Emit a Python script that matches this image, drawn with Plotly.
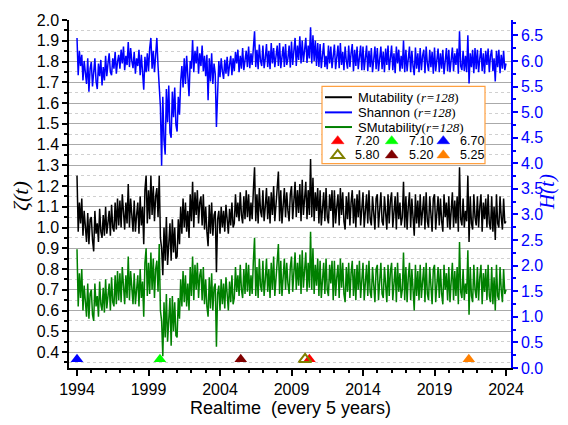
import plotly.graph_objects as go

# ---------------- data ----------------
t_start = 1994.0          # first sample (year)
t_step = 1.0 / 12.0       # sample spacing (years)

# Shannon entropy H(t)  (right axis), 12 samples per year
shannon = [
    6.45, 5.72, 6.20, 5.90, 6.12, 5.62, 6.00, 5.78, 5.55, 6.05, 5.40, 5.85,   # 1994
    5.98, 5.50, 5.82, 6.05, 5.60, 5.45, 5.95, 5.70, 6.02, 5.52, 5.88, 5.62,   # 1995
    6.10, 5.70, 5.95, 6.15, 5.78, 5.72, 6.05, 5.85, 6.18, 5.75, 5.98, 6.12,   # 1996
    5.85, 6.22, 5.95, 6.28, 5.82, 6.10, 5.92, 6.37, 5.88, 6.25, 6.00, 5.86,   # 1997
    6.18, 5.75, 6.05, 5.90, 6.22, 5.72, 6.12, 5.80, 5.44, 6.08, 5.78, 6.15,   # 1998
    5.80, 6.25, 6.45, 5.85, 6.20, 5.78, 6.10, 6.45, 5.90, 5.55, 5.10, 3.95,   # 1999
    5.30, 4.45, 4.17, 5.45, 4.80, 5.52, 4.60, 4.50, 5.40, 4.90, 5.48, 4.75,   # 2000
    4.62, 5.30, 4.95, 5.60, 5.90, 5.48, 6.05, 5.55, 6.10, 5.70, 5.31, 6.00,   # 2001
    5.85, 6.41, 5.78, 6.20, 5.95, 6.28, 5.75, 6.15, 5.90, 6.30, 5.80, 6.10,   # 2002
    5.70, 6.12, 5.23, 6.05, 5.60, 6.15, 5.55, 5.95, 5.75, 4.71, 5.65, 6.00,   # 2003
    5.68, 6.05, 5.80, 5.65, 6.02, 5.75, 6.08, 5.70, 5.92, 6.10, 5.72, 6.05,   # 2004
    5.80, 6.18, 5.95, 6.22, 5.78, 6.10, 5.85, 6.25, 5.82, 6.05, 6.20, 5.88,   # 2005
    6.28, 5.86, 6.15, 5.92, 6.30, 6.58, 5.88, 6.22, 5.84, 6.32, 6.00, 5.90,   # 2006
    6.30, 5.86, 6.05, 6.33, 5.88, 6.20, 5.84, 6.35, 5.95, 6.25, 5.88, 6.10,   # 2007
    6.30, 5.90, 6.35, 5.86, 6.15, 6.28, 5.88, 6.33, 5.92, 6.05, 6.30, 5.87,   # 2008
    6.38, 5.92, 6.20, 6.45, 5.90, 6.30, 6.02, 6.48, 5.95, 6.40, 5.98, 6.25,   # 2009
    6.45, 5.96, 6.30, 6.05, 6.66, 5.95, 6.50, 6.00, 6.40, 5.90, 6.35, 5.88,   # 2010
    6.33, 5.86, 6.20, 6.35, 5.88, 6.10, 5.84, 6.30, 5.95, 6.28, 5.86, 6.15,   # 2011
    6.32, 5.84, 6.05, 6.30, 5.86, 6.35, 5.92, 6.18, 5.82, 6.28, 6.00, 5.85,   # 2012
    6.30, 5.88, 6.15, 6.33, 5.80, 6.22, 5.90, 6.28, 5.84, 6.10, 6.30, 5.82,   # 2013
    6.28, 5.82, 6.08, 6.30, 5.80, 6.20, 5.88, 6.25, 5.78, 6.12, 6.28, 5.84,   # 2014
    6.25, 5.80, 6.05, 6.28, 5.84, 6.18, 5.78, 6.24, 5.92, 6.30, 5.82, 6.10,   # 2015
    6.30, 5.82, 6.15, 5.76, 6.28, 5.95, 6.22, 5.80, 6.10, 5.85, 6.40, 5.78,   # 2016
    6.22, 5.80, 6.05, 6.28, 5.78, 6.20, 5.90, 5.72, 6.26, 5.85, 6.15, 5.78,   # 2017
    6.25, 5.82, 6.10, 6.22, 5.76, 6.28, 5.95, 5.80, 6.22, 5.88, 6.18, 5.75,   # 2018
    6.26, 5.80, 6.02, 6.24, 5.78, 6.15, 5.85, 6.22, 5.74, 6.10, 6.25, 5.80,   # 2019
    6.22, 5.78, 6.08, 6.26, 5.80, 6.15, 5.92, 6.24, 5.75, 6.58, 5.90, 5.82,   # 2020
    6.20, 5.80, 6.10, 5.78, 6.50, 5.56, 6.15, 5.88, 6.22, 5.76, 6.25, 5.84,   # 2021
    6.22, 5.78, 6.05, 6.25, 5.80, 6.15, 5.75, 6.20, 5.92, 6.24, 5.78, 6.10,   # 2022
    6.22, 5.80, 6.05, 5.60, 6.20, 5.88, 6.22, 5.76, 6.12, 5.85, 6.20, 5.82,   # 2023
    5.95,                                                                     # 2024
]

# Mutability zeta(t)  (left axis)
mutability = [
    1.25, 0.98, 1.12, 1.02, 1.14, 0.96, 1.08, 1.00, 0.93, 1.07, 0.92, 1.04,   # 1994
    1.05, 0.94, 0.885, 1.08, 0.97, 1.02, 0.93, 1.09, 0.98, 0.95, 1.06, 0.96,  # 1995
    1.10, 0.97, 1.04, 1.08, 0.96, 1.11, 1.00, 0.98, 1.12, 0.99, 1.14, 1.01,   # 1996
    1.13, 1.00, 1.16, 1.04, 0.99, 1.12, 1.02, 1.21, 1.00, 1.14, 1.06, 0.98,   # 1997
    1.13, 0.98, 1.06, 1.12, 0.97, 1.15, 1.01, 1.10, 0.92, 1.18, 1.25, 1.02,   # 1998
    1.18, 1.04, 1.25, 1.06, 1.20, 1.03, 1.15, 1.19, 1.05, 1.25, 0.95, 0.90,   # 1999
    0.77, 1.00, 0.84, 1.05, 0.82, 0.95, 1.02, 0.84, 1.04, 0.88, 1.00, 0.85,   # 2000
    0.86, 1.04, 0.92, 1.10, 0.97, 1.14, 1.00, 1.12, 0.98, 1.08, 0.95, 1.16,   # 2001
    1.03, 1.22, 1.00, 1.17, 1.06, 1.18, 1.02, 1.12, 1.15, 1.01, 1.16, 0.99,   # 2002
    1.10, 0.98, 0.91, 1.11, 0.97, 1.12, 0.96, 1.06, 1.08, 0.785, 1.04, 1.08,  # 2003
    0.97, 1.10, 1.00, 1.08, 0.98, 1.11, 1.02, 0.97, 1.09, 1.01, 1.12, 1.00,   # 2004
    1.02, 1.16, 1.05, 1.12, 1.03, 1.17, 1.06, 1.02, 1.15, 1.04, 1.18, 1.05,   # 2005
    1.16, 1.03, 1.12, 1.04, 1.18, 1.29, 1.03, 1.16, 1.02, 1.19, 1.08, 1.05,   # 2006
    1.18, 1.03, 1.10, 1.19, 1.04, 1.15, 1.02, 1.17, 1.06, 1.20, 1.03, 1.12,   # 2007
    1.17, 1.27, 1.03, 1.18, 1.02, 1.14, 1.19, 1.05, 1.17, 1.08, 1.03, 1.16,   # 2008
    1.20, 1.04, 1.15, 1.22, 1.05, 1.18, 1.07, 1.21, 1.03, 1.23, 1.06, 1.16,   # 2009
    1.22, 1.04, 1.18, 1.06, 1.33, 1.05, 1.24, 1.03, 1.17, 1.08, 1.19, 1.02,   # 2010
    1.18, 1.01, 1.12, 1.17, 1.03, 1.19, 1.05, 1.02, 1.16, 1.08, 1.18, 1.00,   # 2011
    1.18, 1.02, 1.10, 1.16, 1.01, 1.19, 1.06, 1.17, 1.03, 0.99, 1.15, 1.04,   # 2012
    1.17, 1.01, 1.12, 1.18, 1.02, 1.14, 1.00, 1.16, 1.05, 1.18, 1.01, 1.10,   # 2013
    1.17, 1.00, 1.10, 1.16, 1.02, 1.18, 1.04, 1.01, 1.15, 1.07, 0.99, 1.14,   # 2014
    1.16, 1.00, 1.12, 1.17, 1.03, 1.01, 1.15, 1.06, 0.99, 1.16, 1.02, 1.13,   # 2015
    1.17, 1.00, 1.08, 1.15, 0.99, 1.17, 1.04, 1.12, 1.01, 1.05, 1.22, 1.00,   # 2016
    1.15, 0.99, 1.10, 1.17, 1.00, 1.14, 1.05, 0.96, 1.16, 1.02, 1.13, 1.00,   # 2017
    1.16, 1.01, 1.08, 1.15, 0.99, 1.17, 1.03, 1.00, 1.15, 1.06, 0.98, 1.14,   # 2018
    1.16, 0.99, 1.10, 1.15, 1.01, 1.14, 1.03, 0.98, 1.16, 1.05, 1.12, 1.00,   # 2019
    1.15, 0.99, 1.08, 1.17, 1.00, 1.13, 1.02, 1.15, 0.98, 1.29, 1.04, 1.01,   # 2020
    1.14, 1.00, 1.08, 1.03, 1.25, 0.93, 1.15, 1.02, 0.99, 1.16, 1.05, 1.01,   # 2021
    1.15, 1.00, 1.10, 1.16, 0.98, 1.12, 1.04, 1.14, 1.00, 1.16, 1.02, 0.99,   # 2022
    1.15, 0.98, 1.10, 0.94, 1.16, 1.02, 1.00, 1.15, 1.05, 0.99, 1.14, 1.02,   # 2023
    1.03,                                                                     # 2024
]

# SMutability (left axis)
smutability = [
    0.895, 0.62, 0.78, 0.66, 0.80, 0.60, 0.72, 0.64, 0.57, 0.73, 0.56, 0.68,  # 1994
    0.70, 0.58, 0.55, 0.73, 0.62, 0.67, 0.57, 0.74, 0.63, 0.60, 0.71, 0.59,   # 1995
    0.75, 0.61, 0.68, 0.73, 0.60, 0.76, 0.64, 0.62, 0.77, 0.63, 0.79, 0.65,   # 1996
    0.78, 0.64, 0.81, 0.68, 0.63, 0.77, 0.66, 0.86, 0.65, 0.79, 0.70, 0.63,   # 1997
    0.78, 0.63, 0.70, 0.77, 0.62, 0.80, 0.66, 0.74, 0.57, 0.83, 0.90, 0.67,   # 1998
    0.83, 0.68, 0.88, 0.70, 0.85, 0.66, 0.80, 0.84, 0.69, 0.92, 0.60, 0.55,   # 1999
    0.38, 0.64, 0.47, 0.68, 0.45, 0.58, 0.66, 0.43, 0.67, 0.50, 0.64, 0.48,   # 2000
    0.47, 0.66, 0.56, 0.75, 0.62, 0.79, 0.64, 0.77, 0.62, 0.73, 0.60, 0.81,   # 2001
    0.67, 0.86, 0.65, 0.82, 0.70, 0.83, 0.66, 0.77, 0.80, 0.65, 0.81, 0.63,   # 2002
    0.75, 0.62, 0.57, 0.76, 0.61, 0.78, 0.60, 0.71, 0.73, 0.425, 0.68, 0.72,  # 2003
    0.60, 0.75, 0.63, 0.73, 0.61, 0.76, 0.65, 0.60, 0.74, 0.64, 0.77, 0.63,   # 2004
    0.66, 0.81, 0.69, 0.77, 0.67, 0.82, 0.70, 0.66, 0.80, 0.68, 0.83, 0.69,   # 2005
    0.82, 0.67, 0.77, 0.68, 0.84, 0.95, 0.67, 0.81, 0.66, 0.85, 0.72, 0.69,   # 2006
    0.84, 0.67, 0.75, 0.85, 0.69, 0.80, 0.66, 0.83, 0.70, 0.86, 0.67, 0.77,   # 2007
    0.82, 0.92, 0.68, 0.84, 0.67, 0.79, 0.85, 0.70, 0.83, 0.73, 0.68, 0.81,   # 2008
    0.86, 0.69, 0.80, 0.88, 0.70, 0.83, 0.72, 0.87, 0.68, 0.89, 0.71, 0.81,   # 2009
    0.88, 0.69, 0.83, 0.71, 0.98, 0.70, 0.90, 0.68, 0.82, 0.72, 0.85, 0.67,   # 2010
    0.84, 0.66, 0.78, 0.83, 0.68, 0.85, 0.70, 0.67, 0.82, 0.73, 0.84, 0.65,   # 2011
    0.84, 0.67, 0.76, 0.82, 0.66, 0.85, 0.71, 0.83, 0.68, 0.64, 0.81, 0.69,   # 2012
    0.83, 0.66, 0.78, 0.84, 0.67, 0.80, 0.65, 0.82, 0.70, 0.84, 0.66, 0.76,   # 2013
    0.83, 0.65, 0.76, 0.82, 0.67, 0.84, 0.69, 0.66, 0.81, 0.72, 0.64, 0.80,   # 2014
    0.82, 0.65, 0.77, 0.83, 0.68, 0.66, 0.81, 0.71, 0.64, 0.82, 0.67, 0.79,   # 2015
    0.83, 0.65, 0.74, 0.81, 0.64, 0.83, 0.69, 0.78, 0.66, 0.70, 0.88, 0.65,   # 2016
    0.81, 0.64, 0.76, 0.83, 0.65, 0.80, 0.70, 0.60, 0.82, 0.67, 0.79, 0.65,   # 2017
    0.82, 0.66, 0.74, 0.81, 0.64, 0.83, 0.68, 0.65, 0.81, 0.71, 0.63, 0.80,   # 2018
    0.82, 0.64, 0.76, 0.81, 0.66, 0.80, 0.68, 0.63, 0.82, 0.70, 0.78, 0.65,   # 2019
    0.81, 0.64, 0.74, 0.83, 0.65, 0.79, 0.67, 0.81, 0.63, 0.93, 0.69, 0.66,   # 2020
    0.80, 0.65, 0.73, 0.68, 0.89, 0.58, 0.81, 0.67, 0.64, 0.82, 0.70, 0.66,   # 2021
    0.81, 0.65, 0.76, 0.82, 0.63, 0.78, 0.69, 0.80, 0.65, 0.82, 0.67, 0.64,   # 2022
    0.81, 0.63, 0.76, 0.60, 0.82, 0.67, 0.65, 0.81, 0.70, 0.64, 0.80, 0.68,   # 2023
    0.70,                                                                     # 2024
]

# events (triangles along the bottom)
event_years = [2010.25, 1999.8, 1994.0, 2009.95, 2005.45, 2021.4]
event_labels = ["7.20", "7.10", "6.70", "5.80", "5.20", "5.25"]
event_colors = ["#FF0000", "#00FF00", "#0000FF", "#808000", "#800000", "#FF8000"]
event_open = [False, False, False, True, False, False]
event_level = 0.365

x_ticks = [1994, 1999, 2004, 2009, 2014, 2019, 2024]

# ---------------- figure ----------------
def times(series):
    return [t_start + i * t_step for i in range(len(series))]


W, H = 568, 425
L, R, T, B = 69, 57, 12, 57
PW, PH = W - L - R, H - T - B


def pxx(x):
    return (x - L) / PW


def pxy(y):
    return (H - B - y) / PH


SANS = "Liberation Sans, Arial, sans-serif"
SERIF = "Liberation Serif, Times New Roman, serif"

fig = go.Figure()
fig.add_trace(go.Scatter(x=times(shannon), y=shannon, yaxis="y2", mode="lines",
                         line=dict(color="#0000FF", width=1.5), showlegend=False))
fig.add_trace(go.Scatter(x=times(mutability), y=mutability, mode="lines",
                         line=dict(color="#000000", width=1.5), showlegend=False))
fig.add_trace(go.Scatter(x=times(smutability), y=smutability, mode="lines",
                         line=dict(color="#008000", width=1.5), showlegend=False))

draw_order = [0, 1, 2, 4, 5, 3]
for i in draw_order:
    c = event_colors[i]
    if event_open[i]:
        mk = dict(symbol="triangle-up-open", size=11, color=c, line=dict(color=c, width=2))
    else:
        mk = dict(symbol="triangle-up", size=11, color=c, line=dict(width=0))
    fig.add_trace(go.Scatter(x=[event_years[i]], y=[event_level], mode="markers", marker=mk,
                             showlegend=False))

xr = [1993.44, 2024.35]
TF = 16
fig.update_layout(
    width=W, height=H,
    margin=dict(l=L, r=R, t=T, b=B),
    paper_bgcolor="white", plot_bgcolor="white",
    showlegend=False,
    xaxis=dict(range=xr, tickvals=x_ticks, ticks="outside", ticklen=6, tickwidth=1.5,
               tickcolor="black", showline=True, linecolor="black", linewidth=1.5,
               showgrid=False, zeroline=False,
               tickfont=dict(family=SANS, size=TF, color="black"),
               minor=dict(dtick=1, tick0=1994, ticks="outside", ticklen=3, tickwidth=1.5,
                          tickcolor="black", showgrid=False)),
    xaxis2=dict(range=xr, overlaying="x", side="top", anchor="y", tickvals=x_ticks,
                ticks="inside", ticklen=7, tickwidth=1.5, tickcolor="#0000FF",
                showline=True, linecolor="#0000FF", linewidth=1.5, showgrid=False,
                zeroline=False, showticklabels=False,
                minor=dict(dtick=1, tick0=1994, ticks="inside", ticklen=4, tickwidth=1.5,
                           tickcolor="#0000FF", showgrid=False)),
    yaxis=dict(range=[0.323, 2.0], tick0=0.4, dtick=0.1, tickformat=".1f",
               ticks="outside", ticklen=5, tickwidth=1.5, tickcolor="black",
               showline=True, linecolor="black", linewidth=1.5,
               showgrid=True, gridcolor="#aaaaaa", gridwidth=1, zeroline=False,
               tickfont=dict(family=SANS, size=TF, color="black"),
               minor=dict(dtick=0.05, tick0=0.35, ticks="outside", ticklen=3, tickwidth=1.5,
                          tickcolor="black", showgrid=True, griddash="dot",
                          gridcolor="#d0d0d0", gridwidth=1)),
    yaxis2=dict(range=[0, 6.8], overlaying="y", side="right", anchor="x",
                tick0=0, dtick=0.5, tickformat=".1f",
                ticks="outside", ticklen=5, tickwidth=1.5, tickcolor="#0000FF",
                showline=True, linecolor="#0000FF", linewidth=1.5,
                showgrid=False, zeroline=False,
                tickfont=dict(family=SANS, size=TF, color="#0000FF"),
                minor=dict(dtick=0.25, ticks="outside", ticklen=3, tickwidth=1.5,
                           tickcolor="#0000FF", showgrid=False)),
)

ann = []
shapes = []
# axis titles
ann.append(dict(text="<i>ζ(t)</i>", xref="paper", yref="paper", x=pxx(21), y=pxy(192),
                textangle=-90, showarrow=False, xanchor="center", yanchor="middle",
                font=dict(family=SERIF, size=22, color="black")))
ann.append(dict(text="<i>H(t)</i>", xref="paper", yref="paper", x=pxx(547), y=pxy(188),
                textangle=-90, showarrow=False, xanchor="center", yanchor="middle",
                font=dict(family=SERIF, size=21, color="#0000FF")))
ann.append(dict(text="Realtime  (every 5 years)", xref="paper", yref="paper",
                x=pxx(290), y=pxy(409), showarrow=False, xanchor="center", yanchor="middle",
                font=dict(family=SANS, size=18, color="black")))

# legend box
shapes.append(dict(type="rect", xref="paper", yref="paper", x0=pxx(322), x1=pxx(485),
                   y0=pxy(159), y1=pxy(80), line=dict(color="#FFA040", width=1.2),
                   fillcolor="white", layer="above"))
line_items = [("Mutability", "#000000", 91), ("Shannon", "#0000FF", 106.5),
              ("SMutability", "#008000", 121.5)]
for name, c, yy in line_items:
    shapes.append(dict(type="line", xref="paper", yref="paper", x0=pxx(325), x1=pxx(352),
                       y0=pxy(yy), y1=pxy(yy), line=dict(color=c, width=2), layer="above"))
    sep = " " if name != "SMutability" else ""
    ann.append(dict(text=name + sep + '<span style="font-family:Liberation Serif">(<i>r=128</i>)</span>',
                    xref="paper", yref="paper", x=pxx(356), y=pxy(yy), showarrow=False,
                    xanchor="left", yanchor="middle",
                    font=dict(family=SANS, size=13, color="black")))

# legend triangles (3 columns x 2 rows)
col_x = [337.7, 391.7, 443.3]
row_y = [135.8, 150.3]
rt, r2, rs = 6.35, 2.75, 5.5
for k in range(len(event_labels)):
    cx = col_x[k % 3]
    cy = row_y[k // 3]
    path = "M {} {} L {} {} L {} {} Z".format(
        pxx(cx - rt), pxy(cy + r2), pxx(cx + rt), pxy(cy + r2), pxx(cx), pxy(cy - rs))
    c = event_colors[k]
    if event_open[k]:
        shapes.append(dict(type="path", xref="paper", yref="paper", path=path,
                           line=dict(color=c, width=2), fillcolor="rgba(0,0,0,0)", layer="above"))
    else:
        shapes.append(dict(type="path", xref="paper", yref="paper", path=path,
                           line=dict(color=c, width=0.5), fillcolor=c, layer="above"))
    ann.append(dict(text=event_labels[k], xref="paper", yref="paper", x=pxx(cx + 16),
                    y=pxy(cy), showarrow=False, xanchor="left", yanchor="middle",
                    borderpad=0,
                    font=dict(family=SANS, size=12.5, color="black")))

fig.update_layout(annotations=ann, shapes=shapes)
fig.write_html("out.html", config={"displayModeBar": False},
               post_script="document.body.style.margin='0px';")
